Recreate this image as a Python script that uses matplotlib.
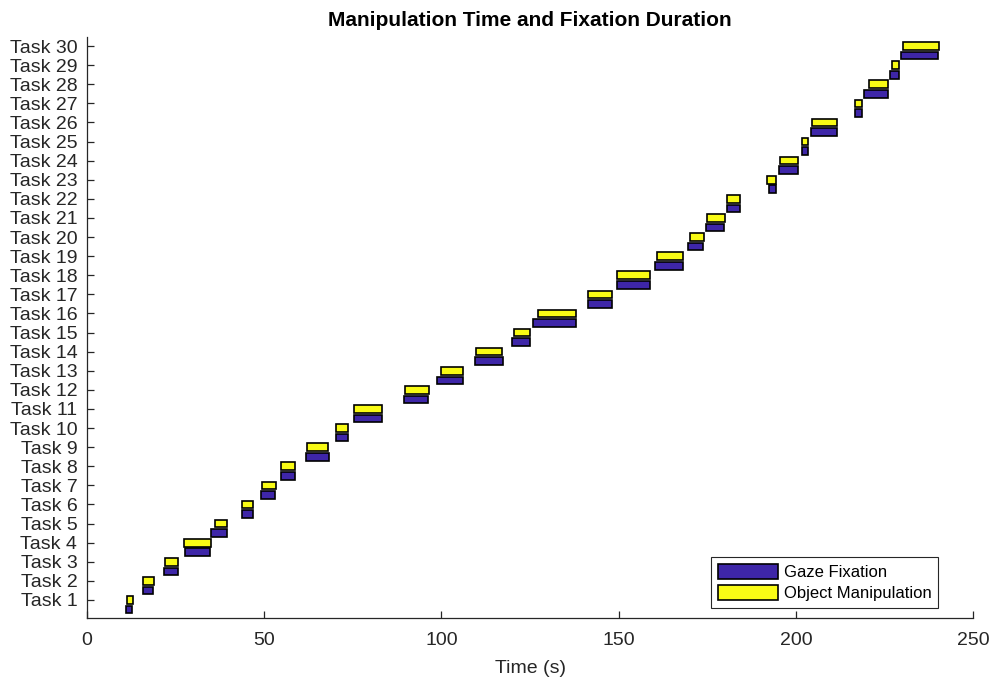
import matplotlib
matplotlib.use('Agg')
import matplotlib.pyplot as plt
import numpy as np

plt.rcParams['font.family'] = ['Liberation Sans', 'DejaVu Sans']

# 작업 이름
tasks = [f"Task {i}" for i in range(1, 31)]

# 시선 고정 구간 (시작, 끝) - 초
gaze_start = [10.9, 15.8, 21.6, 27.7, 34.9, 43.6, 49.0, 54.6, 61.7, 70.4,
              75.2, 89.4, 98.8, 109.5, 119.8, 125.9, 141.5, 149.5, 160.2, 169.6,
              174.7, 180.5, 192.3, 195.3, 201.6, 204.4, 216.6, 219.2, 226.7, 229.6]
gaze_end = [12.8, 18.5, 25.6, 34.6, 39.4, 46.8, 53.0, 58.6, 68.2, 73.7,
            83.1, 96.3, 106.0, 117.3, 125.0, 137.9, 148.0, 158.9, 168.3, 173.8,
            179.6, 184.2, 194.3, 200.5, 203.3, 211.5, 218.6, 226.0, 229.0, 240.0]

# 물체 조작 구간
manip_start = [11.3, 15.8, 22.0, 27.5, 36.1, 43.6, 49.4, 54.6, 62.0, 70.4,
               75.2, 89.7, 99.8, 109.8, 120.4, 127.2, 141.5, 149.5, 160.7, 170.1,
               174.9, 180.5, 192.0, 195.6, 201.6, 204.7, 216.6, 220.6, 227.2, 230.2]
manip_end = [13.1, 18.8, 25.6, 34.9, 39.4, 46.8, 53.4, 58.6, 67.9, 73.7,
             83.1, 96.6, 106.0, 117.0, 125.0, 137.9, 148.0, 158.9, 168.3, 174.1,
             179.9, 184.2, 194.3, 200.5, 203.3, 211.5, 218.6, 226.0, 229.0, 240.3]

blue = '#3E26A8'
yellow = '#F9FB15'
axcol = '#262626'

y = np.arange(1, len(tasks) + 1)
gaze_w = np.array(gaze_end) - np.array(gaze_start)
manip_w = np.array(manip_end) - np.array(manip_start)

fig = plt.figure(figsize=(9.93, 6.8), dpi=100)
ax = fig.add_axes([0.0876, 0.0907, 0.8923, 0.8545])

ax.barh(y - 0.5, gaze_w, left=gaze_start, height=0.4, color=blue,
        edgecolor='black', linewidth=1.2, label='Gaze Fixation')
ax.barh(y, manip_w, left=manip_start, height=0.4, color=yellow,
        edgecolor='black', linewidth=1.2, label='Object Manipulation')

ax.set_xlim(0, 250)
ax.set_ylim(0.04, 30.46)
ax.set_yticks(y)
ax.set_yticklabels(tasks)
ax.set_xticks([0, 50, 100, 150, 200, 250])

ax.spines['top'].set_visible(False)
ax.spines['right'].set_visible(False)
for s in ['left', 'bottom']:
    ax.spines[s].set_color(axcol)
    ax.spines[s].set_linewidth(0.9)
ax.tick_params(direction='in', length=5, width=0.9, colors=axcol,
               labelsize=14, labelcolor=axcol)
ax.tick_params(axis='x', pad=9.5)
ax.tick_params(axis='y', pad=7)

ax.set_xlabel('Time (s)', fontsize=14, color=axcol, labelpad=8)
ax.set_title('Manipulation Time and Fixation Duration', fontsize=15,
             fontweight='bold', pad=8)

leg = ax.legend(loc='lower right', bbox_to_anchor=(0.9605, 0.0177),
                borderaxespad=0, fontsize=12, fancybox=False, framealpha=1,
                edgecolor=axcol, handlelength=3.6, handleheight=1.0,
                handletextpad=0.35, borderpad=0.4, labelspacing=0.3)
leg.get_frame().set_linewidth(0.8)

plt.savefig('out.png', dpi=100)
